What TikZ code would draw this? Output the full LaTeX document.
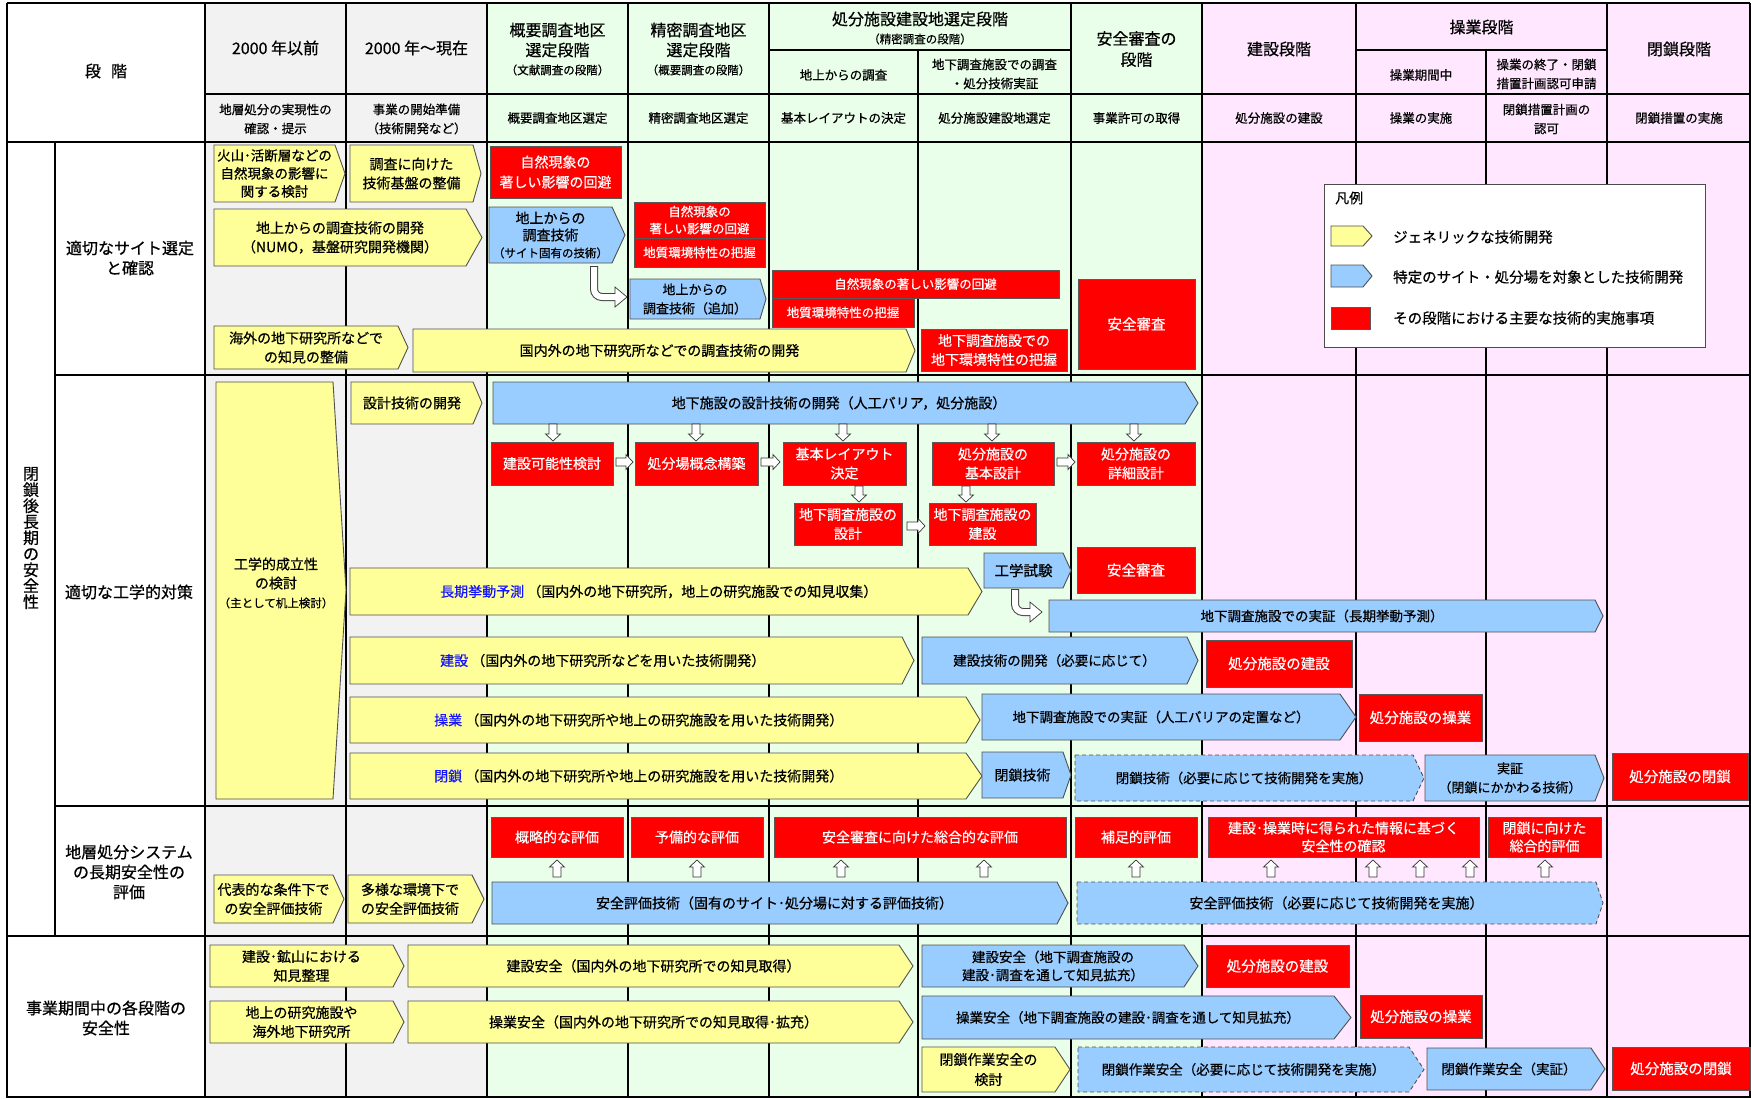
\documentclass[tikz,border=0pt]{standalone}
\usepackage{fontspec}
\setmainfont{Noto Sans CJK JP}[FakeBold=0.6]
\definecolor{cgray}{RGB}{242,242,242}
\definecolor{cgreen}{RGB}{234,255,234}
\definecolor{cpink}{RGB}{255,232,255}
\definecolor{cyel}{RGB}{255,255,153}
\definecolor{cblue}{RGB}{153,204,255}
\definecolor{cred}{RGB}{255,0,0}
\definecolor{kwblue}{RGB}{20,20,255}
\definecolor{edge}{RGB}{80,80,80}
\newcommand\FS[2]{\fontsize{#1}{#2}\selectfont}
\newcommand\fA{\FS{14}{19}}
\newcommand\fB{\FS{13.5}{19}}
\newcommand\fC{\FS{12.5}{17}}
\newcommand\fH{\FS{16}{21}}
\newcommand\fP{\FS{11.5}{14}}
\newcommand\fS{\FS{12.5}{19}}
\newcommand\fL{\FS{16}{20}}
\tikzset{
  yel/.style={fill=cyel, draw=edge, line width=0.9pt},
  blu/.style={fill=cblue, draw=edge, line width=0.9pt},
  blud/.style={fill=cblue, draw=edge, line width=0.9pt, dash pattern=on 4pt off 3pt},
  redbox/.style={fill=cred, draw=black!65, line width=0.9pt},
  txt/.style={align=center, inner sep=0pt, text=black},
  wtxt/.style={align=center, inner sep=0pt, text=white},
  blkarr/.style={fill=white, draw=black!80, line width=0.7pt},
  gline/.style={line width=1.2pt, draw=black},
  gthick/.style={line width=2.4pt, draw=black},
}
\newcommand\PAshape[6]{\draw[#1] (#2,#3) -- (#4,#3) -- (#5,{(#3+#6)/2}) -- (#4,#6) -- (#2,#6) -- cycle;}
\newcommand\PA[9]{\PAshape{#1}{#3}{#4}{#5}{#6}{#7}\node[txt,font={#8}] (#2) at ({(#3+#5)/2},{(#4+#7)/2}) {#9};}
\newcommand\RB[7]{\draw[redbox] (#2,#3) rectangle (#4,#5); \node[wtxt,font={#6}] (#1) at ({(#2+#4)/2},{(#3+#5)/2}) {#7};}
\newcommand\DArr[3]{\draw[blkarr] ({#1-4},#2) -- ({#1+4},#2) -- ({#1+4},{#3-7}) -- ({#1+7.5},{#3-7}) -- (#1,#3) -- ({#1-7.5},{#3-7}) -- ({#1-4},{#3-7}) -- cycle;}
\newcommand\UArr[3]{\draw[blkarr] ({#1-4},#2) -- ({#1+4},#2) -- ({#1+4},{#3+7}) -- ({#1+7.5},{#3+7}) -- (#1,#3) -- ({#1-7.5},{#3+7}) -- ({#1-4},{#3+7}) -- cycle;}
\newcommand\RArr[3]{\draw[blkarr] (#1,{#3-4}) -- ({#2-7},{#3-4}) -- ({#2-7},{#3-7.5}) -- (#2,#3) -- ({#2-7},{#3+7.5}) -- ({#2-7},{#3+4}) -- (#1,{#3+4}) -- cycle;}
\begin{document}
\begin{tikzpicture}[x=1pt,y=-1pt]
\useasboundingbox (0,0) rectangle (1751,1098);
\fill[white] (0,0) rectangle (1751,1098);
% backgrounds
\fill[cgray] (205,3) rectangle (487,1098);
\fill[cgreen] (487,3) rectangle (1202,1098);
\fill[cpink] (1202,3) rectangle (1751,1098);
% grid
\draw[gline] (7,3) -- (1750,3);
\draw[gline] (769,50) -- (1071,50);
\draw[gline] (1356,50) -- (1607,50);
\draw[gline] (205,94) -- (1750,94);
\draw[gline] (55,375) -- (1750,375);
\draw[gline] (55,806) -- (1750,806);
\draw[gline] (7,1097) -- (1750,1097);
\foreach \xx in {7,205,346,487,628,769,1071,1202,1356,1607,1750} {\draw[gline] (\xx,3) -- (\xx,1098);}
\draw[gline] (918,50) -- (918,1098);
\draw[gline] (1486,50) -- (1486,1098);
\draw[gline] (55,142) -- (55,936);
\draw[gthick] (7,142) -- (1750,142);
\draw[gthick] (7,936) -- (1750,936);
% header
\node[txt,font=\fH] (hdan) at (106,71) {段\hspace{10pt}階};
\node[txt,font=\fH] (h1) at (275.5,48) {2000 年以前};
\node[txt,font=\fH] (h2) at (416.5,48) {2000 年～現在};
\node[txt,font=\fH] (h3a) at (557.5,30) {概要調査地区};
\node[txt,font=\fH] (h3b) at (557.5,50) {選定段階};
\node[txt,font=\fP] (h3c) at (557.5,70) {（文献調査の段階）};
\node[txt,font=\fH] (h4a) at (698.5,30) {精密調査地区};
\node[txt,font=\fH] (h4b) at (698.5,50) {選定段階};
\node[txt,font=\fP] (h4c) at (698.5,70) {（概要調査の段階）};
\node[txt,font=\fH] (h5) at (920,19) {処分施設建設地選定段階};
\node[txt,font=\fP] (h5p) at (920,39) {（精密調査の段階）};
\node[txt,font=\fS] (h5a) at (843.5,75) {地上からの調査};
\node[txt,font=\fS] (h5b) at (994.5,74) {地下調査施設での調査\\・処分技術実証};
\node[txt,font=\fH] (h6) at (1136.5,49) {安全審査の\\段階};
\node[txt,font=\fH] (h7) at (1279,49) {建設段階};
\node[txt,font=\fH] (h8) at (1481.5,27) {操業段階};
\node[txt,font=\fS] (h8a) at (1421,75) {操業期間中};
\node[txt,font=\fS] (h8b) at (1546.5,74) {操業の終了・閉鎖\\措置計画認可申請};
\node[txt,font=\fH] (h9) at (1679,49) {閉鎖段階};
\node[txt,font=\fS] (d1) at (275.5,119) {地層処分の実現性の\\確認・提示};
\node[txt,font=\fS] (d2) at (416.5,119) {事業の開始準備\\（技術開発など）};
\node[txt,font=\fS] (d3) at (557.5,118) {概要調査地区選定};
\node[txt,font=\fS] (d4) at (698.5,118) {精密調査地区選定};
\node[txt,font=\fS] (d5) at (843.5,118) {基本レイアウトの決定};
\node[txt,font=\fS] (d6) at (994.5,118) {処分施設建設地選定};
\node[txt,font=\fS] (d7) at (1136.5,118) {事業許可の取得};
\node[txt,font=\fS] (d8) at (1279,118) {処分施設の建設};
\node[txt,font=\fS] (d9) at (1421,118) {操業の実施};
\node[txt,font=\fS] (d10) at (1546.5,119) {閉鎖措置計画の\\認可};
\node[txt,font=\fS] (d11) at (1679,118) {閉鎖措置の実施};
% row labels
\node[txt,font=\FS{16}{16}] (r0) at (31,538) {閉\\鎖\\後\\長\\期\\の\\安\\全\\性};
\node[txt,font=\fL] (r1) at (130,258) {適切なサイト選定\\と確認};
\node[txt,font=\fL] (r2) at (129,592) {適切な工学的対策};
\node[txt,font=\fL] (r3) at (129,872) {地層処分システム\\の長期安全性の\\評価};
\node[txt,font=\fL] (r4) at (106,1018) {事業期間中の各段階の\\安全性};
% ===== row 1
\PA{yel}{a1}{214}{145}{335}{345}{202}{\FS{13.5}{18}}{火山･活断層などの\\自然現象の影響に\\関する検討}
\PA{yel}{a2}{350}{145}{473}{481}{202}{\fA}{調査に向けた\\技術基盤の整備}
\RB{b1}{490}{146}{621}{198}{\FS{14}{20}}{自然現象の\\著しい影響の回避}
\PA{yel}{a3}{214}{209}{466}{482}{266}{\fA}{地上からの調査技術の開発\\（NUMO，基盤研究開発機関）}
% hook 1
\draw[line width=8pt, black!75, rounded corners=8pt] (594,266) -- (594,297) -- (618,297);
\draw[blkarr] (615,287) -- (627,297) -- (615,307) -- cycle;
\draw[line width=6pt, white, rounded corners=8pt] (594,267) -- (594,297) -- (617,297);
\PA{blu}{a4}{489}{207}{612}{625}{263}{\FS{14}{17}}{地上からの\\調査技術\\{\FS{11.5}{15}（サイト固有の技術）}}
\draw[redbox] (634,202) rectangle (765,238);
\node[wtxt,font=\fC] (b2) at (699.5,220) {自然現象の\\著しい影響の回避};
\draw[redbox] (634,238) rectangle (765,267);
\node[wtxt,font=\fC] (b3) at (699.5,252.5) {地質環境特性の把握};
\PA{blu}{a5}{630}{279}{760}{766}{319}{\FS{13}{19}}{地上からの\\調査技術（追加）}
\RB{b4}{772}{270}{1059}{298}{\fC}{自然現象の著しい影響の回避}
\RB{b5}{772}{298}{914}{327}{\fC}{地質環境特性の把握}
\PA{yel}{a6}{214}{326}{398}{408}{369}{\fA}{海外の地下研究所などで\\の知見の整備}
\PA{yel}{a7}{413}{329}{906}{915}{372}{\fA}{国内外の地下研究所などでの調査技術の開発}
\RB{b6}{921}{329}{1067}{371}{\fA}{地下調査施設での\\地下環境特性の把握}
\RB{b7}{1078}{279}{1195}{369}{\FS{14.5}{19}}{安全審査}
% legend
\draw[fill=white, draw=black!70, line width=1pt] (1324,184) rectangle (1705,347);
\node[txt,anchor=west,font=\fA] (lgt) at (1335,198) {凡例};
\PAshape{yel}{1331}{226}{1363}{1372}{246}
\node[txt,anchor=west,font=\FS{14.5}{19}] (lg1) at (1393,237) {ジェネリックな技術開発};
\PAshape{blu}{1331}{265}{1363}{1372}{287}
\node[txt,anchor=west,font=\FS{14.5}{19}] (lg2) at (1393,277) {特定のサイト・処分場を対象とした技術開発};
\draw[redbox] (1331,307) rectangle (1370,329);
\node[txt,anchor=west,font=\FS{14.5}{19}] (lg3) at (1393,318) {その段階における主要な技術的実施事項};
% ===== row 2
\draw[yel] (216,382) -- (333,382) -- (346,590) -- (333,799) -- (216,799) -- cycle;
\node[txt,font=\FS{14}{19}] (c1) at (276,583) {工学的成立性\\の検討\\{\FS{11.5}{19}（主として机上検討）}};
\PA{yel}{c2}{351}{382}{473}{482}{424}{\fA}{設計技術の開発}
\PA{blu}{c3}{493}{382}{1185}{1198}{424}{\fA}{地下施設の設計技術の開発（人工バリア，処分施設）}
\DArr{553}{424}{441}
\DArr{696}{424}{441}
\DArr{843}{424}{441}
\DArr{992}{424}{441}
\DArr{1134}{424}{441}
\RB{c21}{491}{442}{613}{485}{\fA}{建設可能性検討}
\RArr{616}{633}{462}
\RB{c22}{635}{442}{758}{485}{\fA}{処分場概念構築}
\RArr{761}{780}{462}
\RB{c23}{783}{442}{906}{485}{\fA}{基本レイアウト\\決定}
\RB{c24}{932}{442}{1054}{485}{\fA}{処分施設の\\基本設計}
\RArr{1057}{1075}{462}
\RB{c25}{1077}{442}{1195}{485}{\fA}{処分施設の\\詳細設計}
\DArr{859}{486}{502}
\DArr{966}{486}{502}
\RB{c26}{794}{503}{902}{545}{\fA}{地下調査施設の\\設計}
\RArr{907}{925}{526}
\RB{c27}{929}{503}{1036}{545}{\fA}{地下調査施設の\\建設}
\PA{blu}{c4}{984}{553}{1063}{1071}{588}{\FS{14.5}{19}}{工学試験}
\RB{c28}{1077}{547}{1195}{593}{\FS{14.5}{19}}{安全審査}
\PAshape{yel}{350}{568}{968}{982}{615}
\node[txt,anchor=west,font=\fA] (c5) at (440,591.5) {{\color{kwblue}長期挙動予測}\ （国内外の地下研究所，地上の研究施設での知見収集）};
% hook 2
\draw[line width=8pt, black!75, rounded corners=8pt] (1015,589) -- (1015,612) -- (1033,612);
\draw[blkarr] (1030,602) -- (1042,612) -- (1030,622) -- cycle;
\draw[line width=6pt, white, rounded corners=8pt] (1015,590) -- (1015,612) -- (1032,612);
\PA{blu}{c6}{1049}{600}{1595}{1603}{632}{\fB}{地下調査施設での実証（長期挙動予測）}
\PAshape{yel}{350}{637}{902}{914}{684}
\node[txt,anchor=west,font=\fA] (c7) at (440,660.5) {{\color{kwblue}建設}\ （国内外の地下研究所などを用いた技術開発）};
\PA{blu}{c8}{922}{637}{1187}{1198}{684}{\fB}{建設技術の開発（必要に応じて）}
\RB{c29}{1206}{640}{1352}{687}{\FS{14.5}{19}}{処分施設の建設}
\PAshape{yel}{350}{697}{966}{980}{743}
\node[txt,anchor=west,font=\fA] (c9) at (434,720) {{\color{kwblue}操業}\ （国内外の地下研究所や地上の研究施設を用いた技術開発）};
\PA{blu}{c10}{982}{694}{1340}{1356}{740}{\fB}{地下調査施設での実証（人工バリアの定置など）}
\RB{c30}{1359}{694}{1482}{741}{\FS{14.5}{19}}{処分施設の操業}
\PAshape{yel}{350}{753}{966}{982}{799}
\node[txt,anchor=west,font=\fA] (c11) at (434,776) {{\color{kwblue}閉鎖}\ （国内外の地下研究所や地上の研究施設を用いた技術開発）};
\PA{blu}{c12}{982}{752}{1063}{1071}{798}{\fA}{閉鎖技術}
\PA{blud}{c13}{1075}{755}{1413}{1424}{801}{\fB}{閉鎖技術（必要に応じて技術開発を実施）}
\PA{blu}{c14}{1425}{755}{1595}{1604}{801}{\FS{13}{19}}{実証\\（閉鎖にかかわる技術）}
\RB{c31}{1612}{753}{1748}{800}{\FS{14.5}{19}}{処分施設の閉鎖}
% ===== row 3
\RB{e11}{491}{817}{623}{857}{\fA}{概略的な評価}
\RB{e12}{631}{817}{763}{857}{\fA}{予備的な評価}
\RB{e13}{774}{817}{1066}{857}{\fA}{安全審査に向けた総合的な評価}
\RB{e14}{1075}{817}{1197}{857}{\fA}{補足的評価}
\RB{e15}{1208}{817}{1479}{857}{\FS{14}{18}}{建設･操業時に得られた情報に基づく\\安全性の確認}
\RB{e16}{1488}{817}{1601}{857}{\FS{14}{18}}{閉鎖に向けた\\総合的評価}
\foreach \ux in {557,697,841,984,1136,1271,1373,1420,1470,1545} {\UArr{\ux}{877}{860}}
\PA{yel}{e1}{214}{875}{333}{344}{923}{\fA}{代表的な条件下で\\の安全評価技術}
\PA{yel}{e2}{348}{875}{472}{484}{923}{\fA}{多様な環境下で\\の安全評価技術}
\PA{blu}{e3}{492}{882}{1057}{1068}{924}{\fA}{安全評価技術（固有のサイト･処分場に対する評価技術）}
\PA{blud}{e4}{1077}{882}{1596}{1603}{924}{\fA}{安全評価技術（必要に応じて技術開発を実施）}
% ===== row 4
\PA{yel}{f1}{210}{945}{393}{404}{987}{\fA}{建設･鉱山における\\知見整理}
\PA{yel}{f2}{408}{945}{899}{913}{987}{\fA}{建設安全（国内外の地下研究所での知見取得）}
\PA{blu}{f3}{922}{945}{1184}{1198}{987}{\FS{13.5}{18}}{建設安全（地下調査施設の\\建設･調査を通して知見拡充）}
\RB{f31}{1206}{945}{1349}{987}{\FS{14.5}{19}}{処分施設の建設}
\PA{yel}{f4}{210}{1001}{393}{404}{1043}{\fA}{地上の研究施設や\\海外地下研究所}
\PA{yel}{f5}{408}{1001}{899}{913}{1043}{\fA}{操業安全（国内外の地下研究所での知見取得･拡充）}
\PA{blu}{f6}{922}{996}{1334}{1351}{1039}{\fB}{操業安全（地下調査施設の建設･調査を通して知見拡充）}
\RB{f61}{1360}{995}{1482}{1038}{\FS{14.5}{19}}{処分施設の操業}
\PA{yel}{f7}{922}{1047}{1055}{1070}{1092}{\FS{14}{20}}{閉鎖作業安全の\\検討}
\PA{blud}{f8}{1078}{1047}{1409}{1424}{1092}{\fB}{閉鎖作業安全（必要に応じて技術開発を実施）}
\PA{blu}{f9}{1427}{1048}{1591}{1605}{1090}{\fB}{閉鎖作業安全（実証）}
\RB{f91}{1612}{1047}{1750}{1090}{\FS{14.5}{19}}{処分施設の閉鎖}
\end{tikzpicture}
\end{document}
